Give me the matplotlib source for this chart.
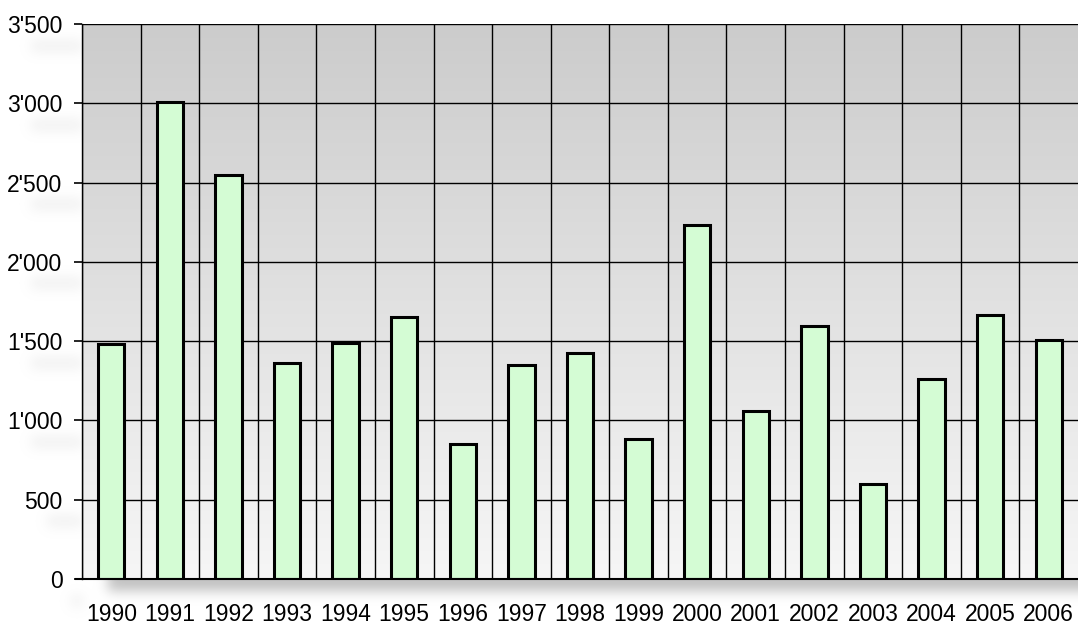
import numpy as np
import matplotlib
matplotlib.use("Agg")
import matplotlib.pyplot as plt
from matplotlib.ticker import FuncFormatter

# values
years = ['1990', '1991', '1992', '1993', '1994', '1995', '1996', '1997', '1998',
         '1999', '2000', '2001', '2002', '2003', '2004', '2005', '2006']
values = [1485, 3010, 2545, 1360, 1488, 1652, 852, 1350, 1425,
          886, 2230, 1060, 1595, 597, 1260, 1665, 1505]
yticks = [0, 500, 1000, 1500, 2000, 2500, 3000, 3500]

plt.rcParams['font.family'] = ['Liberation Sans', 'DejaVu Sans']

W, H = 1078, 626
x0, y0, y_top = 82, 579, 24   # plot area in pixels


def fmt_thousands(v, pos=None):
    return f"{int(v):,}".replace(",", "'")


def blur(a, sigma):
    r = int(3 * sigma)
    k = np.exp(-0.5 * (np.arange(-r, r + 1) / sigma) ** 2)
    k /= k.sum()
    a = np.apply_along_axis(lambda m: np.convolve(m, k, mode='same'), 0, a)
    a = np.apply_along_axis(lambda m: np.convolve(m, k, mode='same'), 1, a)
    return a


fig = plt.figure(figsize=(W / 100, H / 100), dpi=100)
fig.patch.set_facecolor('white')

# soft shadows: one under the x axis, faint smears below-right of the y labels
mask = np.zeros((H, W + 40))
mask[568:591, 108:] = 1.0
shadow_alpha = blur(mask, 6)[:, :W]
ghost = np.zeros((H, W))
px_per_val = (y0 - y_top) / 3500
for t in yticks:
    lab = fmt_thousands(t)
    yc = int(y0 - t * px_per_val) + 22
    label_w = 12 * len(lab.replace("'", "")) + 4 * lab.count("'")
    xr = 83
    ghost[max(yc - 6, 0):yc + 6, xr - label_w:xr] = 1.0
ghost_alpha = blur(ghost, 6) * 0.22
img = np.ones((H, W, 4))
img[..., :3] = 0.76
img[..., 3] = np.clip(shadow_alpha + ghost_alpha, 0, 1)
fig.figimage(img, xo=0, yo=0, origin='upper', zorder=0)

ax = fig.add_axes([x0 / W, 1 - y0 / H, 1 - x0 / W, (y0 - y_top) / H], zorder=1)
x = np.arange(len(years))

# grey (top) to near-white (bottom) gradient background
grad = np.linspace(0.8, 0.965, 256)[:, None]
ax.imshow(np.dstack([grad, grad, grad]), aspect='auto', origin='upper',
          extent=[-0.5, len(years) - 0.5, 0, 3500], zorder=0,
          interpolation='bilinear')

ax.bar(x, values, width=0.45, color='#d4fcd4', edgecolor='black',
       linewidth=2.2, zorder=3)

for b in np.arange(-0.5, len(years) - 0.5, 1.0):
    ax.axvline(b, color='black', linewidth=1.0, zorder=1)
for t in yticks:
    ax.axhline(t, color='black', linewidth=1.0, zorder=1)

ax.set_xlim(-0.5, len(years) - 0.5)
ax.set_ylim(0, 3500)
ax.set_xticks(x)
ax.set_xticklabels(years)
ax.set_yticks(yticks)
ax.yaxis.set_major_formatter(FuncFormatter(fmt_thousands))
ax.tick_params(axis='x', length=0, pad=17, labelsize=16.5)
ax.tick_params(axis='y', length=6, width=1.2, pad=8, labelsize=16.5)

for side in ['top', 'right']:
    ax.spines[side].set_visible(False)
ax.spines['left'].set_linewidth(1.0)
ax.spines['bottom'].set_linewidth(1.5)
ax.spines['bottom'].set_bounds(-0.6, len(years) - 0.5)
ax.spines['bottom'].set_zorder(4)

fig.savefig('out.png', dpi=100)
